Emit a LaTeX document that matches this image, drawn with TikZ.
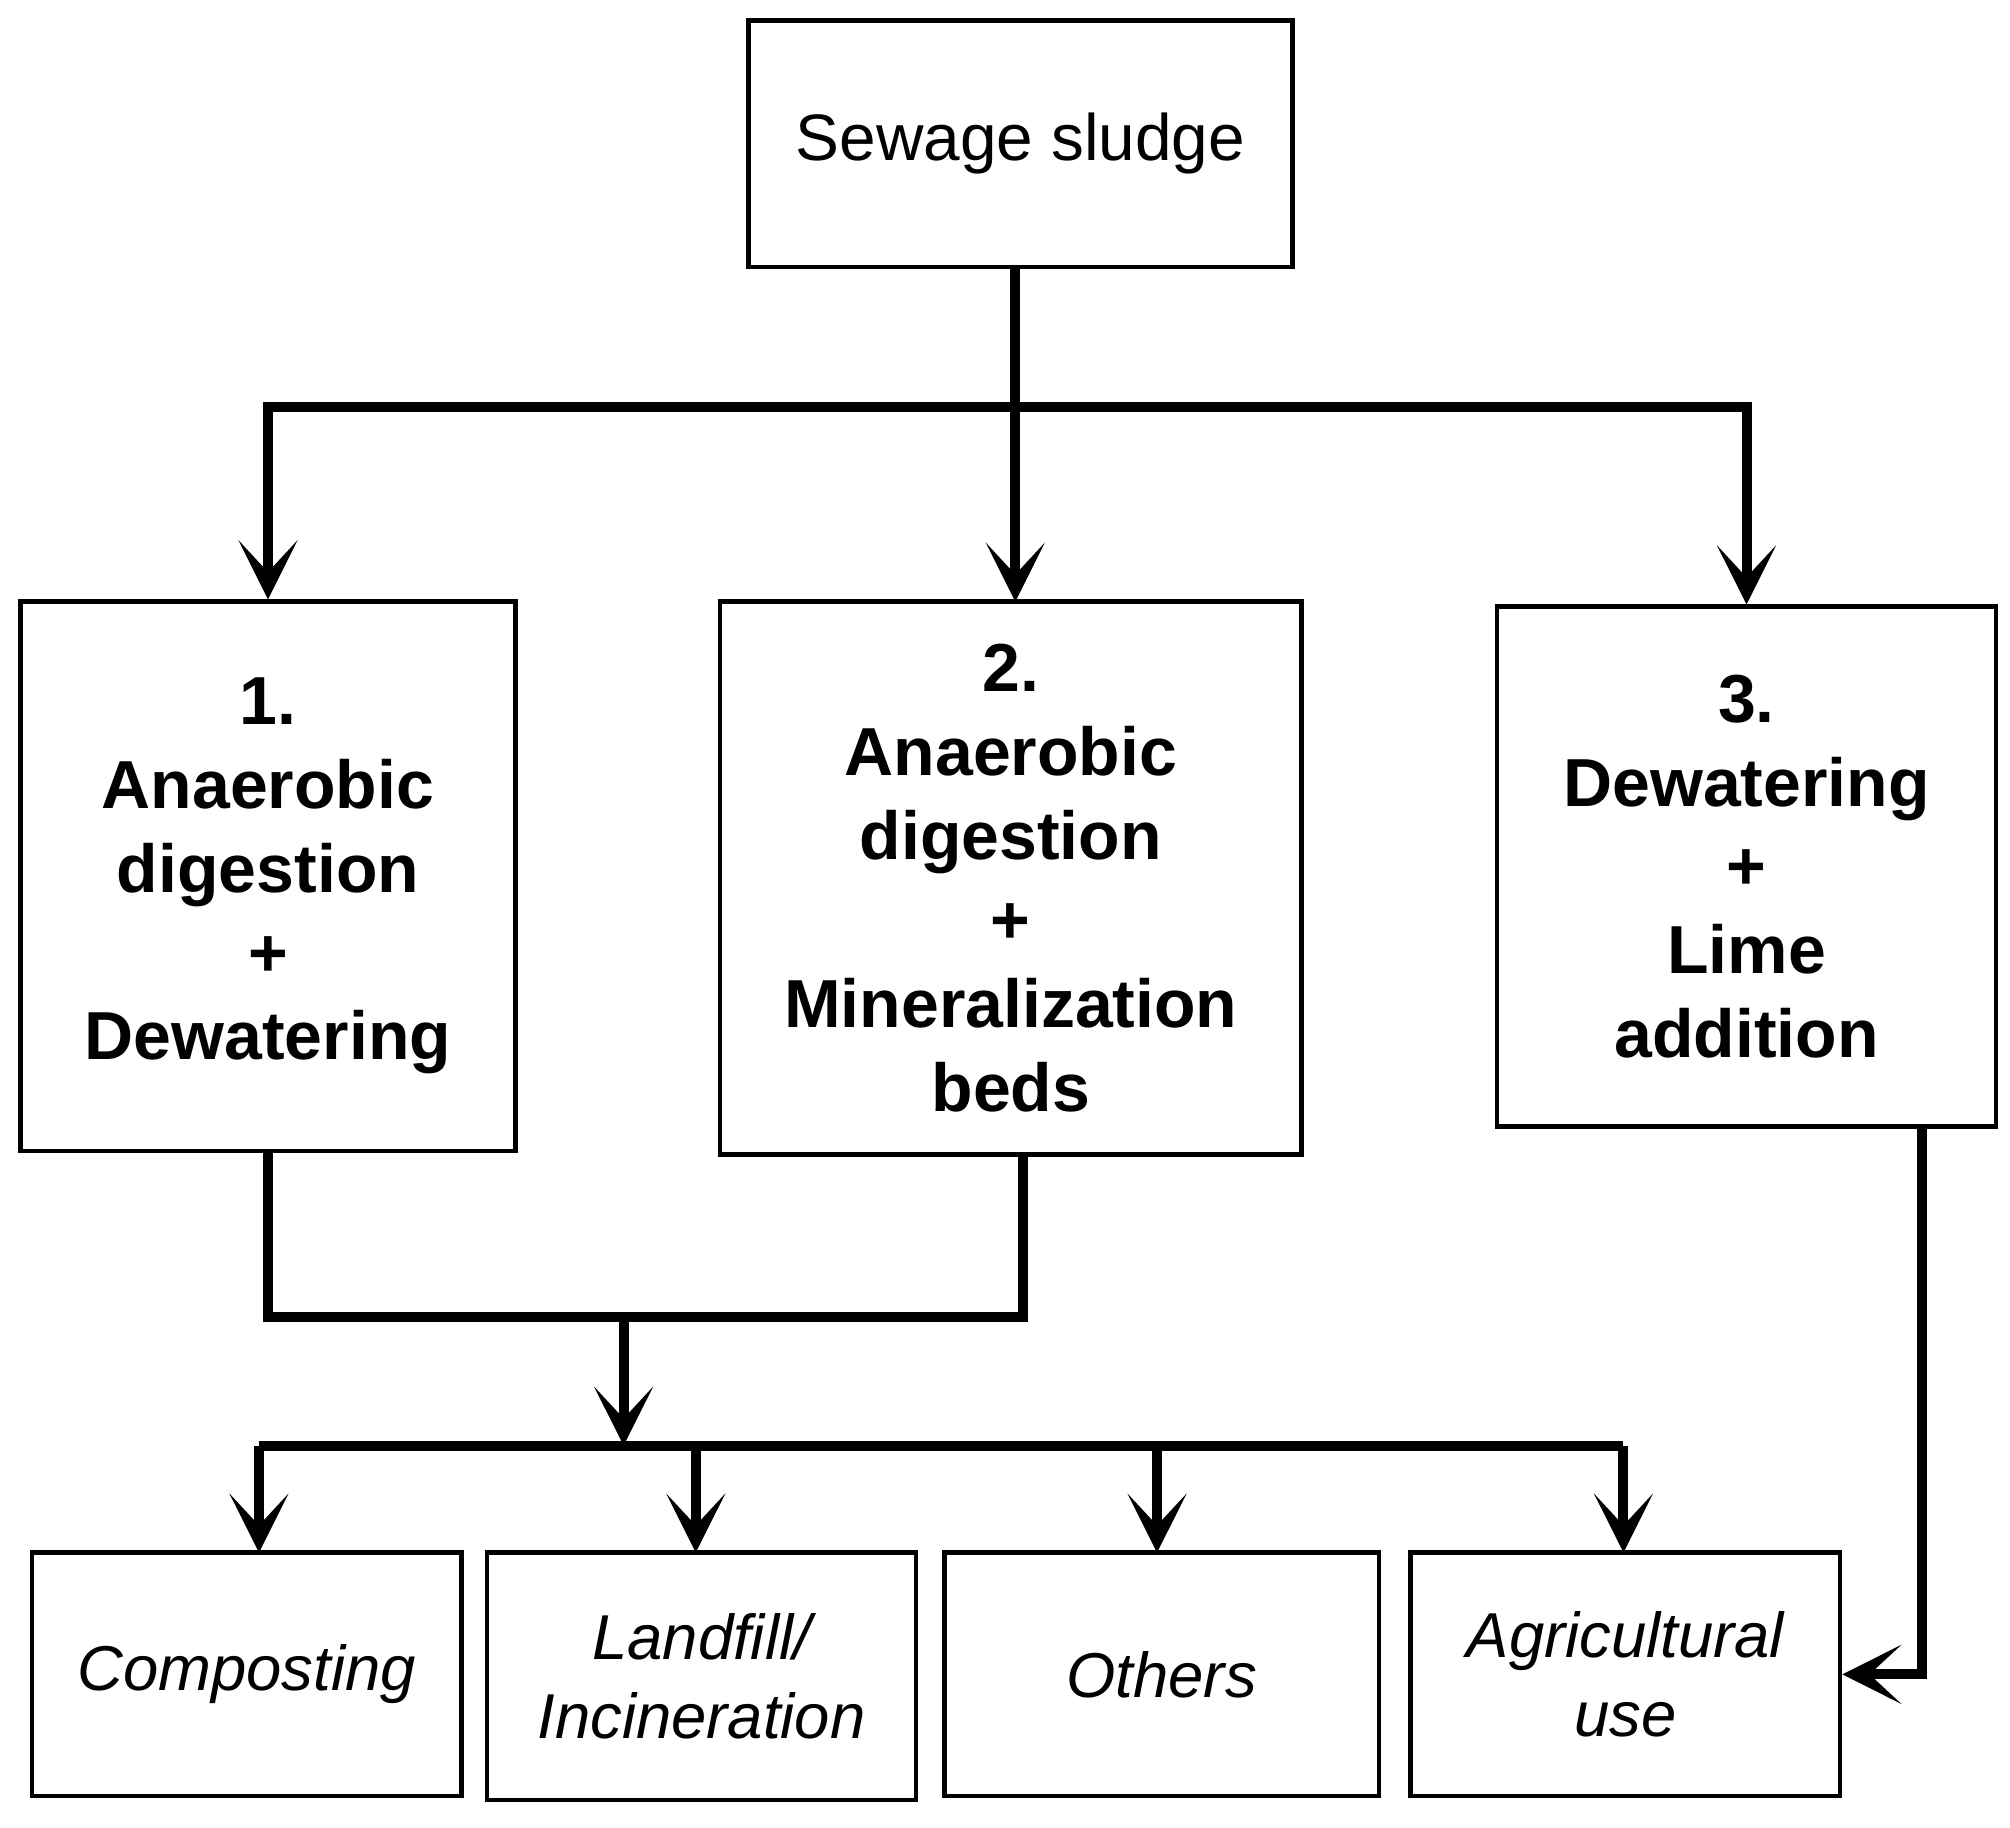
\documentclass[tikz,border=0pt]{standalone}
\usepackage{fontspec}
\setmainfont{Liberation Sans}
\usetikzlibrary{arrows.meta}
\begin{document}
\begin{tikzpicture}[x=0.01cm,y=-0.01cm,
 box/.style={draw,line width=1pt,inner sep=0pt,align=center},
 ln/.style={line width=2.2pt},
 ar/.style={ln,-{Stealth[length=13pt,width=13pt,inset=7pt]}},
 bf/.style={font=\fontsize{15}{18.5}\selectfont\bfseries},
 it/.style={font=\fontsize{14}{17.5}\selectfont\itshape}]
\useasboundingbox (0,0) rectangle (1560,1418);
\node[box,minimum width=4.22cm,minimum height=1.91cm,font=\fontsize{14.5}{18}\selectfont] (s) at (792,111.5) {Sewage sludge};
\node[box,bf,minimum width=3.84cm,minimum height=4.26cm] (b1) at (208,680) {1.\\Anaerobic\\digestion\\+\\Dewatering};
\node[box,bf,minimum width=4.51cm,minimum height=4.29cm] (b2) at (784.5,681.5) {2.\\Anaerobic\\digestion\\+\\Mineralization\\beds};
\node[box,bf,minimum width=3.87cm,minimum height=4.03cm] (b3) at (1355.5,672.5) {3.\\Dewatering\\+\\Lime\\addition};
\node[box,it,minimum width=3.33cm,minimum height=1.89cm] (c1) at (191.5,1299.5) {Composting};
\node[box,it,minimum width=3.33cm,minimum height=1.92cm] (c2) at (544.5,1301) {Landfill/\\Incineration};
\node[box,it,minimum width=3.37cm,minimum height=1.89cm] (c3) at (901.5,1299.5) {Others};
\node[box,it,minimum width=3.33cm,minimum height=1.89cm] (c4) at (1261.5,1299.5) {Agricultural\\use};
\coordinate (j1) at (788,316);
\coordinate (j2) at (484,1022);
\coordinate (j3) at (484,1122);
\draw[ln] (788,207) -- (j1);
\draw[ar] (788,316) -| (b1.north);
\draw[ar] (788,316) -- (788,467);
\draw[ar] (788,316) -| (b3.north);
\draw[ln] (b1.south) |- (794,1022) -- (794,896);
\draw[ar] (j2) -- (j3);
\draw[ln] (201,1122) -- (1260,1122);
\draw[ar] (201,1122) -- (201,1205);
\draw[ar] (540,1122) -- (540,1205);
\draw[ar] (898,1122) -- (898,1205);
\draw[ar] (1260,1122) -- (1260,1205);
\draw[ar] (1492,874) |- (c4.east);
\end{tikzpicture}
\end{document}
